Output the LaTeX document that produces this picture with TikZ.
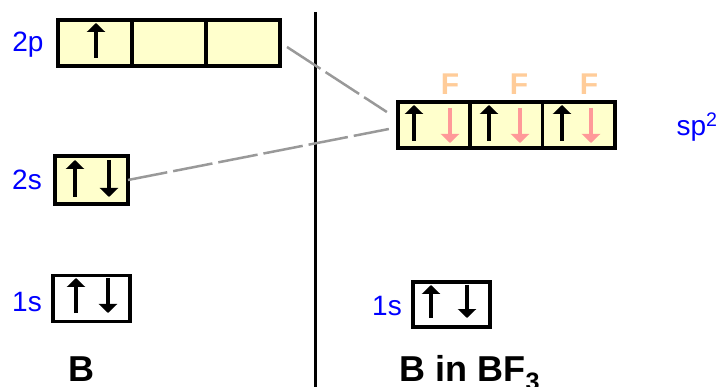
\documentclass[tikz,border=0pt]{standalone}
\usepackage{fontspec}
\setmainfont{Liberation Sans}
\usetikzlibrary{arrows.meta}
\definecolor{boxyellow}{RGB}{255,255,204}
\definecolor{labelblue}{RGB}{0,0,255}
\definecolor{fluorine}{RGB}{255,204,153}
\definecolor{pinkspin}{RGB}{255,153,153}
\definecolor{gray150}{RGB}{153,153,153}

\begin{document}
\begin{tikzpicture}[x=1pt, y=-1pt,
    cell/.style={draw, line width=3.5pt, fill=boxyellow, inner sep=0pt, outer sep=0pt,
                 minimum width=74pt, minimum height=46pt},
    corecell/.style={cell, fill=white, minimum width=77pt},
    orblabel/.style={text=labelblue, font=\fontsize{28}{32}\selectfont},
    atomlabel/.style={anchor=base, inner sep=0pt, font=\fontsize{36}{42}\selectfont\bfseries},
    flabel/.style={text=fluorine, font=\fontsize{30}{36}\selectfont\bfseries},
    spin/.style={line width=4.5pt, -{Triangle[width=18pt,length=9pt]}},
    pinkspin/.style={spin, draw=pinkspin, -{Triangle[width=18pt,length=9pt,fill=pinkspin]}},
    mixline/.style={draw=gray150, line width=2.5pt, dash pattern=on 40pt off 6pt}]
  \useasboundingbox (0,0) rectangle (728,387);

  % boron, ground state
  \node[cell] (p2a) at (95,43) {};
  \node[cell, anchor=west] (p2b) at (p2a.east) {};
  \node[cell, anchor=west] (p2c) at (p2b.east) {};
  \node[orblabel] (l2p) at (28,45) {2p};
  \node[cell, minimum width=73pt, minimum height=48pt] (s2) at (91.5,180) {};
  \node[orblabel] (l2s) at (27,180) {2s};
  \node[corecell] (s1) at (91.5,298.5) {};
  \node[orblabel] (l1s) at (27,302) {1s};
  \node[atomlabel] (atomB) at (81,381) {B};

  \draw[spin] (96,58) -- (96,23);
  \draw[spin] (75,197) -- (75,160);
  \draw[spin] (109,160) -- (109,197);
  \draw[spin] (76,313) -- (76,278);
  \draw[spin] (108,278) -- (108,313);

  % divider
  \draw[line width=3pt] (315,12) -- (315,387);

  % boron in BF3
  \node[cell, minimum width=72.3pt] (sp2a) at (434,125) {};
  \node[cell, minimum width=72.3pt, anchor=west] (sp2b) at (sp2a.east) {};
  \node[cell, minimum width=72.3pt, anchor=west] (sp2c) at (sp2b.east) {};
  \node[orblabel] (lsp2) at (697,127) {sp\textsuperscript{2}};
  \node[flabel] (f1) at (450,84) {F};
  \node[flabel] (f2) at (519,84) {F};
  \node[flabel] (f3) at (589,84) {F};
  \node[corecell, minimum height=45pt] (s1b) at (451.5,304.5) {};
  \node[orblabel] (l1sb) at (387,306) {1s};
  \node[atomlabel] (atomBF) at (470,381) {B in BF\textsubscript{3}};

  \draw[spin] (414,141) -- (414,105);
  \draw[pinkspin] (450,108) -- (450,143);
  \draw[spin] (489,141) -- (489,105);
  \draw[pinkspin] (520,108) -- (520,143);
  \draw[spin] (562,141) -- (562,105);
  \draw[pinkspin] (591,108) -- (591,143);
  \draw[spin] (431,318) -- (431,285);
  \draw[spin] (467,285) -- (467,318);

  % hybridisation
  \draw[mixline] ([xshift=7pt,yshift=-4pt]p2c.east) -- ([xshift=-11pt,yshift=13pt]sp2a.west);
  \draw[mixline] (s2.east) -- ([xshift=-9pt,yshift=-4pt]sp2a.west);
\end{tikzpicture}
\end{document}
